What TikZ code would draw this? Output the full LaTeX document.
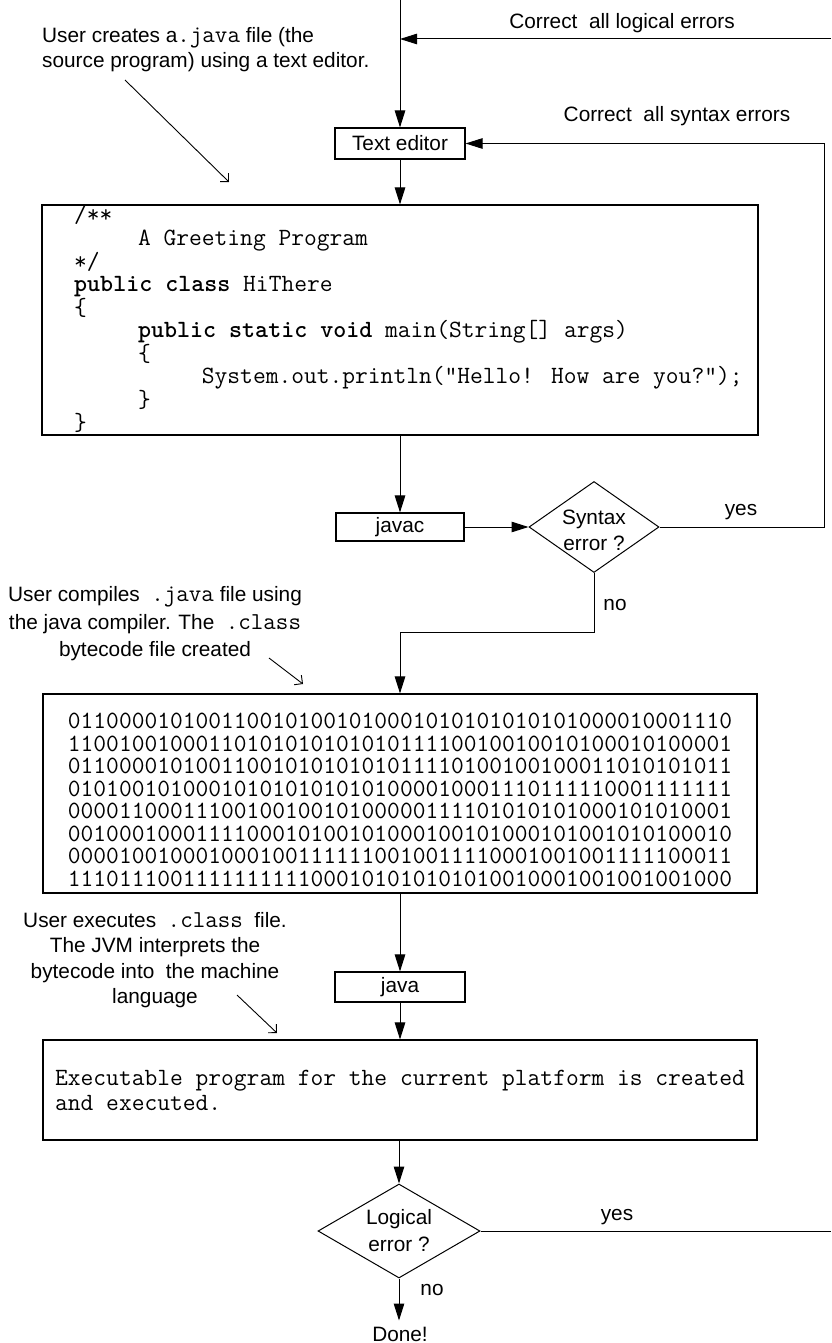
\documentclass[tikz,border=0pt]{standalone}
\usepackage{fontspec}
\setmainfont{Liberation Sans}
\usetikzlibrary{shapes.geometric,arrows.meta}

% indentation of one code level: five monospaced characters
\newcommand\codeindent{\phantom{00000}}

\begin{document}
\begin{tikzpicture}[x=1pt,y=-1pt,
  box/.style={draw, line width=1.1pt, inner sep=0pt},
  conn/.style={line width=1pt, -{Triangle[length=17pt,width=10.5pt]}},
  plainline/.style={line width=1pt},
  pointer/.style={line width=0.9pt, -{Straight Barb[length=6pt,width=12pt]}},
  decision/.style={draw, line width=1pt, diamond, inner sep=0pt},
  lbl/.style={font=\fontsize{20.8}{25}\selectfont, inner sep=0pt},
  codetext/.style={font=\fontsize{24.8}{22.4}\selectfont\ttfamily, inner sep=0pt, align=left}
]
\useasboundingbox (0,0) rectangle (831,1343);

% free ends of the connectors
\coordinate (top)     at (400,0);
\coordinate (logIn)   at (400,39);
\coordinate (logR)    at (831,39);
\coordinate (synTurn) at (824,143.5);
\coordinate (noTurn)  at (400,632);
\coordinate (logOut)  at (831,1231);

% process boxes
\node[box, minimum width=130pt, minimum height=31pt, lbl] (edit) at (400,143.5) {Text editor};

\node[box, minimum width=716pt, minimum height=230pt] (src) at (400,320) {};
\node[codetext, anchor=west] (srcText) at (74,319)
{/**\\
\codeindent A Greeting Program\\
{*}/\\
\textbf{public class} HiThere\\
\{\\
\codeindent\textbf{public static void} main(String[] args)\\
\codeindent\{\\
\codeindent\codeindent System.out.println("Hello! How are you?");\\
\codeindent\}\\
\}};

\node[box, minimum width=128pt, minimum height=28pt, lbl] (javac) at (400,527) {javac};

\node[decision, minimum width=130pt, minimum height=91pt,
      label={[lbl, align=center, font=\fontsize{20.8}{26}\selectfont, yshift=-3pt]center:Syntax\\error ?}]
      (syn) at (594,527) {};

\node[box, minimum width=714pt, minimum height=199pt] (bin) at (400,793.5) {};
\node[codetext, font=\fontsize{24.8}{22.5}\selectfont\ttfamily] (binText) at (400,800)
{0110000101001100101001010001010101010101000010001110\\
1100100100011010101010101011110010010010100010100001\\
0110000101001100101010101011110100100100011010101011\\
0101001010001010101010101000010001110111110001111111\\
0000110001110010010010100000111101010101000101010001\\
0010001000111100010100101000100101000101001010100010\\
0000100100010001001111110010011110001001001111100011\\
1110111001111111111000101010101010010001001001001000};

\node[box, minimum width=130pt, minimum height=30pt, lbl] (java) at (400,987) {java};

\node[box, font=\fontsize{24.8}{25}\selectfont\ttfamily, minimum width=714pt,
      minimum height=100pt, align=left] (exec) at (400,1090)
{Executable program for the current platform is created\\
and executed.};

\node[decision, minimum width=162pt, minimum height=94pt,
      label={[lbl, align=center, font=\fontsize{20.8}{27}\selectfont]center:Logical\\error ?}]
      (logic) at (399,1231) {};

\node[lbl, anchor=base, inner ysep=6pt] (done) at (400,1341) {Done!};

% connectors
\draw[conn] (top) -- (edit);
\draw[conn] (logR) -- (logIn);
\draw[conn] (syn.east) -| (synTurn) -- (edit.east);
\draw[conn] (edit) -- (src);
\draw[conn] (src) -- (javac);
\draw[conn] (javac) -- (syn);
\draw[conn] (syn.south) |- (noTurn) -- (bin.north);
\draw[conn] (bin) -- (java);
\draw[conn] (java) -- (exec);
\draw[conn] (exec.south -| logic.north) -- (logic);
\draw[plainline] (logic.east) -- (logOut);
\draw[conn] (logic.south) -- (done.north -| logic.south);

% branch labels
\node[lbl] (synYes) at (741,512) {yes};
\node[lbl] (synNo) at (615,605) {no};
\node[lbl] (logYes) at (617,1217) {yes};
\node[lbl] (logNo) at (432,1290) {no};

% loop labels
\node[lbl] (fixLog) at (622,23) {Correct\ \ all logical errors};
\node[lbl] (fixSyn) at (677,116) {Correct\ \ all syntax errors};

% explanatory notes with their pointers
\newcommand\inlinecode[1]{{\fontsize{24.3}{25}\selectfont\ttfamily #1}}
\node[lbl, anchor=west, align=left] (note1) at (42,50)
  {User creates a\inlinecode{.java} file (the\\source program) using a text editor.};
\node[lbl, align=center, font=\fontsize{20.8}{27.5}\selectfont] (note2) at (155,624)
  {User compiles \ \inlinecode{.java} file using\\the java compiler. The \ \inlinecode{.class}\\bytecode file created};
\node[lbl, align=center, font=\fontsize{20.8}{25.5}\selectfont] (note3) at (155,960)
  {User executes \ \inlinecode{.class} \ file.\\The JVM interprets the\\bytecode into \ the machine\\language};

\coordinate (p1s) at (125,80);   \coordinate (p1e) at (229,182);
\coordinate (p2s) at (269,658);  \coordinate (p2e) at (303,684);
\coordinate (p3s) at (237,995);  \coordinate (p3e) at (277,1033);
\draw[pointer] (p1s) -- (p1e);
\draw[pointer] (p2s) -- (p2e);
\draw[pointer] (p3s) -- (p3e);
\end{tikzpicture}
\end{document}
